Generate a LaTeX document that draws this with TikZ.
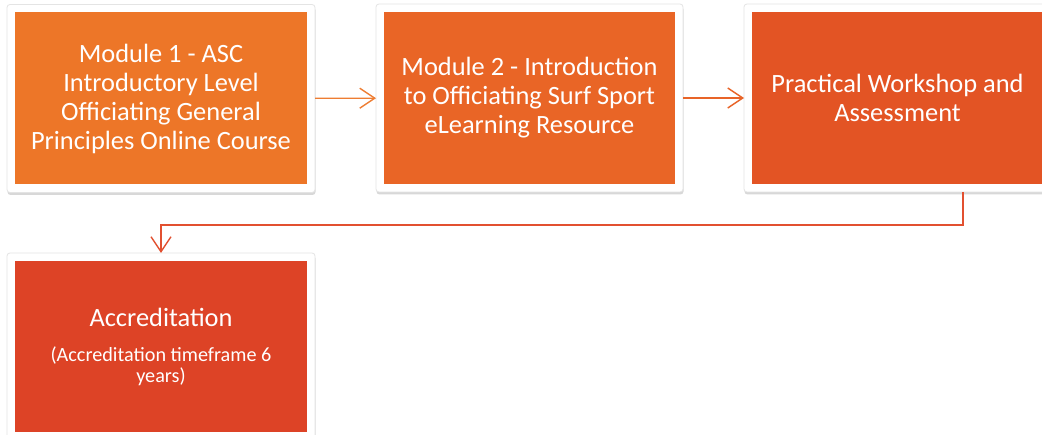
\documentclass[tikz,border=0pt]{standalone}
\usepackage{fontspec}
\setmainfont{Carlito}
\usetikzlibrary{arrows.meta,shadows,backgrounds}
\definecolor{cA}{RGB}{237,118,40}
\definecolor{cB}{RGB}{233,101,38}
\definecolor{cC}{RGB}{227,84,36}
\definecolor{cD}{RGB}{221,67,38}
\definecolor{lA}{RGB}{238,125,50}
\definecolor{lB}{RGB}{232,100,40}
\definecolor{lC}{RGB}{226,80,48}
\definecolor{edge}{RGB}{228,228,228}
\tikzset{
  stagebox/.style={minimum width=292pt, minimum height=172pt, inner sep=0pt,
    outer sep=8pt, text=white, align=center,
    font=\fontsize{26.4}{29}\selectfont},
  frame/.style={fill=white, draw=edge, line width=0.8pt, rounded corners=3pt,
    drop shadow={opacity=0.3, shadow xshift=0.5pt, shadow yshift=-2.5pt}},
  flow/.style={line width=1.4pt, -{Straight Barb[length=15pt,width=20pt,line width=1.4pt]}}
}
\begin{document}
\begin{tikzpicture}[x=1pt,y=-1pt]
\useasboundingbox (0,0) rectangle (1042,435);
\clip (0,0) rectangle (1042,435);
\node[stagebox, fill=cA] (b1) at (161,98.5) {Module 1 - ASC\\Introductory Level\\Officiating General\\Principles Online Course};
\node[stagebox, fill=cB, minimum width=291pt] (b2) at (529.5,98) {Module 2 - Introduction\\to Officiating Surf Sport\\eLearning Resource};
\node[stagebox, fill=cC, minimum width=291pt] (b3) at (897.5,98) {Practical Workshop and\\Assessment};
\node[stagebox, fill=cD, minimum height=171pt] (b4) at (161,346.5) {\rule{0pt}{22pt}Accreditation\\[17pt]{\fontsize{20.2}{20}\selectfont\begin{tabular}{@{}c@{}}(Accreditation timeframe 6\\years)\end{tabular}}};
\begin{scope}[on background layer]
  \fill[white] (0,0) rectangle (1042,435);
  \foreach \n in {b1,b2,b3,b4} {
    \filldraw[frame] (\n.north west) rectangle (\n.south east);
  }
\end{scope}
\coordinate (k) at (963,225);
\draw[flow, lA] (b1) -- (b2);
\draw[flow, lB] (b2) -- (b3);
\draw[flow, lC] (b3.south -| k) -- (k) -| (b4.north);
\end{tikzpicture}
\end{document}
